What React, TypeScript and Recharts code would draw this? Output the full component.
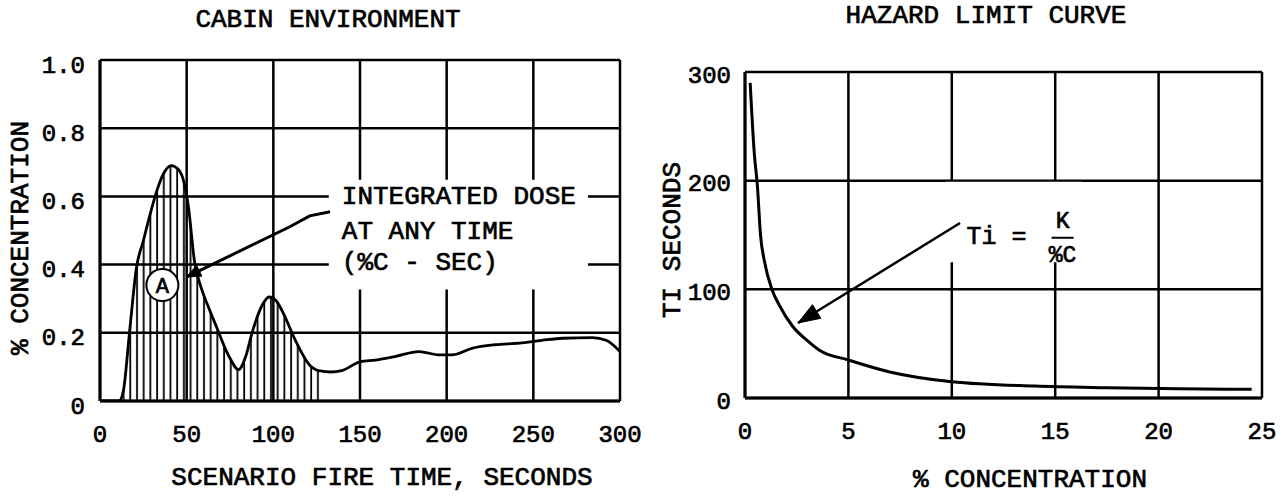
import React from "react";
import {
  ComposedChart,
  Line,
  Area,
  XAxis,
  YAxis,
  CartesianGrid,
  ReferenceArea,
  ReferenceDot,
} from "recharts";

const FONT = "'Liberation Mono', 'Courier New', monospace";
const TSTROKE = 0.7;

// ---------- Cabin environment (left) ----------
const cabinTime = [
  0, 11, 13.5, 17, 21, 25, 28, 33, 37, 41, 45, 48.5, 51, 54.5, 58.5, 63, 67, 74, 80, 84, 88, 93.5, 97.5,
  101.5, 105.5, 113, 121, 127, 133, 140, 150, 159, 170, 184, 196, 203, 215, 228, 242, 255, 267, 284, 292, 300,
];
const cabinConc = [
  0, 0, 0.03, 0.2, 0.39, 0.47, 0.53, 0.62, 0.67, 0.69, 0.68, 0.64, 0.57, 0.41, 0.33, 0.27, 0.22, 0.135, 0.092,
  0.13, 0.205, 0.28, 0.305, 0.295, 0.26, 0.175, 0.105, 0.088, 0.085, 0.09, 0.115, 0.12, 0.13, 0.145, 0.135, 0.135,
  0.155, 0.165, 0.17, 0.178, 0.184, 0.186, 0.178, 0.145,
];
const hatchUntil = 127;
const cabinXTicks = [0, 50, 100, 150, 200, 250, 300];
const cabinXTickLabels = ["0", "50", "100", "150", "200", "250", "300"];
const cabinYTicks = [0, 0.2, 0.4, 0.6, 0.8, 1.0];
const cabinYTickLabels = ["0", "0.2", "0.4", "0.6", "0.8", "1.0"];
const doseArrowX = [132.7, 121, 109.5, 50];
const doseArrowY = [0.555, 0.543, 0.511, 0.364];
const doseLines = ["INTEGRATED DOSE", "AT ANY TIME", "(%C - SEC)"];
const markerA = { x: 36, y: 0.34, text: "A" };
const doseBox = { x1: 132, x2: 281.5, y1: 0.327, y2: 0.649 };

// ---------- Hazard limit curve (right) ----------
const hazardConc = [0.25, 0.45, 0.6, 0.75, 0.95, 1.3, 1.7, 2.3, 3.0, 3.6, 5.0, 7.0, 10.0, 14.0, 17.5, 21.0, 24.5];
const hazardTi = [290, 225, 195, 150, 125, 100, 84, 66, 53, 44, 35, 24, 15, 11, 9.5, 8.5, 8];
const hazardXTicks = [0, 5, 10, 15, 20, 25];
const hazardXTickLabels = ["0", "5", "10", "15", "20", "25"];
const hazardYTicks = [0, 100, 200, 300];
const hazardYTickLabels = ["0", "100", "200", "300"];
const tiArrowX = [10.4, 2.56];
const tiArrowY = [161, 69];
const formulaBox = { x1: 9.7, x2: 16.3, y1: 125, y2: 199 };
const formula = { left: "Ti =", num: "K", den: "%C" };

const cabinRows = cabinTime.map((t, i) => ({
  x: t,
  y: cabinConc[i],
  hatch: t <= hatchUntil ? cabinConc[i] : null,
}));
const doseArrowRows = doseArrowX.map((x, i) => ({ x, y: doseArrowY[i] }));
const hazardRows = hazardConc.map((c, i) => ({ x: c, y: hazardTi[i] }));
const tiArrowRows = tiArrowX.map((x, i) => ({ x, y: tiArrowY[i] }));

const makeYTick = (ticks: number[], labels: string[], dy: number) => (props: any) => {
  const { x, y, payload } = props;
  const idx = ticks.indexOf(payload.value);
  return (
    <text
      x={x}
      y={y + dy}
      textAnchor="end"
      dominantBaseline="central"
      fontFamily={FONT}
      fontSize={24}
      fill="#000"
      stroke="#000"
      strokeWidth={TSTROKE}
    >
      {labels[idx] ?? String(payload.value)}
    </text>
  );
};
const makeXTick = (ticks: number[], labels: string[]) => (props: any) => {
  const { x, y, payload } = props;
  const idx = ticks.indexOf(payload.value);
  return (
    <text
      x={x}
      y={y}
      textAnchor="middle"
      dominantBaseline="central"
      fontFamily={FONT}
      fontSize={24}
      fill="#000"
      stroke="#000"
      strokeWidth={TSTROKE}
    >
      {labels[idx] ?? String(payload.value)}
    </text>
  );
};

const makeArrowHead = (len: number, half: number) => (props: any) => {
  const { index, points, cx, cy } = props;
  if (!points || index !== points.length - 1 || index < 1) return <g key={`d${index}`} />;
  const p = points[index - 1];
  const ang = Math.atan2(cy - p.y, cx - p.x);
  const bx = cx - len * Math.cos(ang);
  const by = cy - len * Math.sin(ang);
  const nx = -Math.sin(ang) * half;
  const ny = Math.cos(ang) * half;
  return (
    <polygon
      key={`d${index}`}
      points={`${cx},${cy} ${bx + nx},${by + ny} ${bx - nx},${by - ny}`}
      fill="#000"
      stroke="#000"
    />
  );
};

const renderDoseLabel = (props: any) => {
  const vb = props.viewBox || {};
  const x0 = vb.x ?? 0;
  const y0 = vb.y ?? 0;
  const offs = [17, 52, 83];
  return (
    <g>
      {doseLines.map((t, i) => (
        <text
          key={t}
          x={x0 + 13}
          y={y0 + offs[i]}
          dominantBaseline="central"
          fontFamily={FONT}
          fontSize={26}
          fill="#000"
          stroke="#000"
          strokeWidth={TSTROKE}
        >
          {t}
        </text>
      ))}
    </g>
  );
};

const renderFormulaLabel = (props: any) => {
  const vb = props.viewBox || {};
  const x0 = vb.x ?? 0;
  const y0 = vb.y ?? 0;
  return (
    <g fontFamily={FONT} fill="#000" stroke="#000" strokeWidth={TSTROKE}>
      <text x={x0 + 21} y={y0 + 56} dominantBaseline="central" fontSize={25}>
        {formula.left}
      </text>
      <text x={x0 + 117} y={y0 + 40} textAnchor="middle" dominantBaseline="central" fontSize={23}>
        {formula.num}
      </text>
      <line x1={x0 + 106} x2={x0 + 128} y1={y0 + 56} y2={y0 + 56} stroke="#000" strokeWidth={2} />
      <text x={x0 + 117} y={y0 + 74} textAnchor="middle" dominantBaseline="central" fontSize={23}>
        {formula.den}
      </text>
    </g>
  );
};

const textStyle = (x: number, y: number, rotate = false): React.CSSProperties => ({
  position: "absolute",
  left: x,
  top: y,
  transform: `translate(-50%, -50%)${rotate ? " rotate(-90deg)" : ""}`,
  whiteSpace: "nowrap",
  fontFamily: FONT,
  fontSize: 26,
  color: "#000",
  lineHeight: 1,
  WebkitTextStroke: `${TSTROKE}px #000`,
});

export default function App() {
  return (
    <div style={{ position: "absolute", left: 0, top: 0, width: 1284, height: 496, background: "#fff", overflow: "hidden" }}>
      <div style={{ position: "absolute", left: 0, top: 0 }}>
        <ComposedChart width={660} height={496} data={cabinRows} margin={{ top: 60, right: 40, bottom: 65, left: 60 }}>
          <defs>
            <pattern id="hatch" patternUnits="userSpaceOnUse" width={6.7} height={10}>
              <line x1={3} x2={3} y1={0} y2={10} stroke="#000" strokeWidth={1.8} />
            </pattern>
          </defs>
          <CartesianGrid stroke="#000" strokeWidth={2.5} />
          <XAxis
            dataKey="x"
            type="number"
            domain={[0, 300]}
            ticks={cabinXTicks}
            allowDataOverflow
            tickLine={false}
            tickSize={0}
            tickMargin={34}
            height={30}
            axisLine={{ stroke: "#000", strokeWidth: 3 }}
            tick={makeXTick(cabinXTicks, cabinXTickLabels)}
          />
          <YAxis
            type="number"
            domain={[0, 1]}
            ticks={cabinYTicks}
            allowDataOverflow
            tickLine={false}
            tickSize={0}
            tickMargin={15}
            width={40}
            axisLine={{ stroke: "#000", strokeWidth: 3 }}
            tick={makeYTick(cabinYTicks, cabinYTickLabels, 6)}
          />
          <ReferenceArea
            x1={doseBox.x1}
            x2={doseBox.x2}
            y1={doseBox.y1}
            y2={doseBox.y2}
            fill="#fff"
            fillOpacity={1}
            stroke="none"
            label={renderDoseLabel}
          />
          <Area
            dataKey="hatch"
            type="monotone"
            fill="url(#hatch)"
            fillOpacity={1}
            stroke="none"
            isAnimationActive={false}
            dot={false}
            activeDot={false}
          />
          <Line
            dataKey="y"
            type="monotone"
            stroke="#000"
            strokeWidth={2.8}
            dot={false}
            activeDot={false}
            isAnimationActive={false}
          />
          <Line
            data={doseArrowRows}
            dataKey="y"
            type="linear"
            stroke="#000"
            strokeWidth={3}
            dot={makeArrowHead(14, 6)}
            activeDot={false}
            isAnimationActive={false}
          />
          <ReferenceDot
            x={markerA.x}
            y={markerA.y}
            r={16}
            fill="#fff"
            stroke="#000"
            strokeWidth={2}
            label={{ value: markerA.text, position: "center", fontFamily: FONT, fontSize: 22, fill: "#000", stroke: "#000", strokeWidth: TSTROKE }}
          />
        </ComposedChart>
      </div>

      <div style={{ position: "absolute", left: 640, top: 0 }}>
        <ComposedChart width={644} height={496} data={hazardRows} margin={{ top: 72, right: 22, bottom: 68, left: 60 }}>
          <CartesianGrid stroke="#000" strokeWidth={2.5} />
          <XAxis
            dataKey="x"
            type="number"
            domain={[0, 25]}
            ticks={hazardXTicks}
            allowDataOverflow
            tickLine={false}
            tickSize={0}
            tickMargin={34}
            height={30}
            axisLine={{ stroke: "#000", strokeWidth: 3 }}
            tick={makeXTick(hazardXTicks, hazardXTickLabels)}
          />
          <YAxis
            type="number"
            domain={[0, 300]}
            ticks={hazardYTicks}
            allowDataOverflow
            tickLine={false}
            tickSize={0}
            tickMargin={14}
            width={45}
            axisLine={{ stroke: "#000", strokeWidth: 3 }}
            tick={makeYTick(hazardYTicks, hazardYTickLabels, 4)}
          />
          <ReferenceArea
            x1={formulaBox.x1}
            x2={formulaBox.x2}
            y1={formulaBox.y1}
            y2={formulaBox.y2}
            fill="#fff"
            fillOpacity={1}
            stroke="none"
            label={renderFormulaLabel}
          />
          <Line
            dataKey="y"
            type="monotone"
            stroke="#000"
            strokeWidth={3}
            dot={false}
            activeDot={false}
            isAnimationActive={false}
          />
          <Line
            data={tiArrowRows}
            dataKey="y"
            type="linear"
            stroke="#000"
            strokeWidth={2.5}
            dot={makeArrowHead(22, 8)}
            activeDot={false}
            isAnimationActive={false}
          />
        </ComposedChart>
      </div>

      <div style={textStyle(328, 20)}>CABIN ENVIRONMENT</div>
      <div style={textStyle(986, 16)}>HAZARD LIMIT CURVE</div>
      <div style={textStyle(382, 478)}>SCENARIO FIRE TIME, SECONDS</div>
      <div style={textStyle(1030, 480)}>% CONCENTRATION</div>
      <div style={textStyle(21, 238, true)}>% CONCENTRATION</div>
      <div style={textStyle(673, 240, true)}>TI SECONDS</div>
    </div>
  );
}
